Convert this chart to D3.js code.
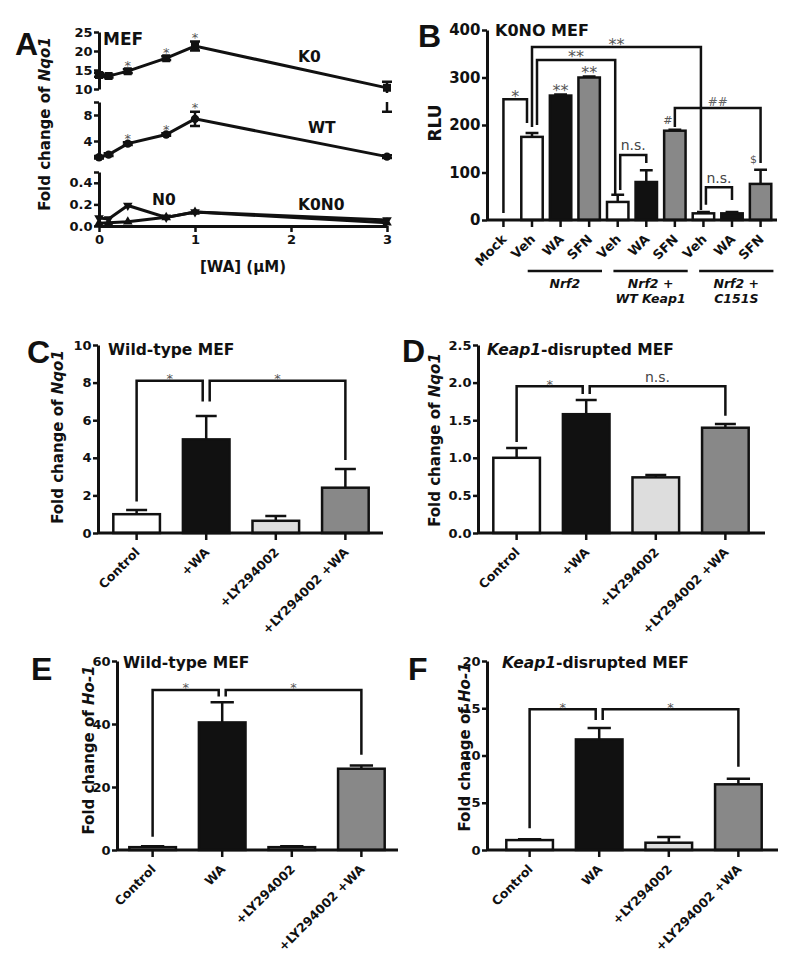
<!DOCTYPE html>
<html><head><meta charset="utf-8">
<script src="https://cdn.jsdelivr.net/npm/d3@7"></script>
<style>body{margin:0;background:#fff}svg{display:block}</style>
</head><body><svg id="c" width="800" height="977"></svg>
<script>
// ---------------- DATA ----------------
// Panel A
const doseA = [0, 0.1, 0.3, 0.7, 1, 3];
const k0A = [13.7, 13.4, 14.7, 18.1, 21.3, 10.3];
const k0LoA = [13.2, 13.0, 14.2, 17.6, 20.1, 4.0];
const k0HiA = [14.2, 13.8, 15.2, 18.6, 22.5, 11.9];
const wtA = [1.5, 1.9, 3.6, 5.0, 7.4, 1.6];
const wtLoA = [1.3, 1.7, 3.4, 4.8, 6.3, 1.4];
const wtHiA = [1.7, 2.1, 3.8, 5.2, 8.5, 1.8];
const n0A = [0.074, 0.065, 0.19, 0.08, 0.13, 0.055];
const k0n0A = [0.026, 0.03, 0.04, 0.08, 0.13, 0.03];
const starDosesK0 = [0.3, 0.7, 1];
const starDosesWT = [0.3, 0.7, 1];
const ticksATop = [10, 15, 20, 25];
const ticksAMid = [4, 8, 10];
const ticksABot = [0, 0.2, 0.4, 0.5];
const ticksAX = [0, 1, 2, 3];

// Panel B
const catsB = ["Mock", "Veh", "WA", "SFN", "Veh", "WA", "SFN", "Veh", "WA", "SFN"];
const rluB = [0, 175, 262, 300, 38, 80, 188, 14, 14, 76];
const rluErrB = [0, 8, 2, 2, 15, 25, 2, 3, 3, 30];
const fillB = ["#fff", "#fff", "#111", "#888", "#fff", "#111", "#888", "#fff", "#111", "#888"];
const groupsB = [[1, 3, ["Nrf2"]], [4, 6, ["Nrf2 +", "WT Keap1"]], [7, 9, ["Nrf2 +", "C151S"]]];
// [leftBar, rightBar, level, leftDrop, rightDrop, label]
const bracketsB = [[0, 1, 254, 15, 204, "*"], [1, 7, 364, 196, 21, "**"], [1, 4, 337, 200, 53, "**"],
                   [6, 9, 236, 196, 120, "##"], [4, 5, 137, 63, 120, "n.s."], [7, 8, 69, 32, 42, "n.s."]];
const marksB = [[2, "**"], [3, "**"], [6, "#"], [9, "$"]];
const ticksB = [0, 100, 200, 300, 400];

// Panels C-F
const catsCD = ["Control", "+WA", "+LY294002", "+LY294002 +WA"];
const catsEF = ["Control", "WA", "+LY294002", "+LY294002 +WA"];
const fillCF = ["#fff", "#111", "#ddd", "#888"];
const valsC = [1.0, 4.98, 0.65, 2.41];
const errC = [0.22, 1.24, 0.25, 1.0];
const valsD = [1.0, 1.58, 0.74, 1.40];
const errD = [0.13, 0.19, 0.03, 0.05];
const valsE = [0.9, 40.5, 0.9, 25.8];
const errE = [0.3, 6.4, 0.3, 1.0];
const valsF = [1.05, 11.7, 0.77, 6.95];
const errF = [0.1, 1.2, 0.6, 0.6];
const bracketsC = [[0, 1, 8.1, 1.67, 7.0, "*"], [1, 3, 8.1, 7.0, 3.88, "*"]];
const bracketsD = [[0, 1, 1.95, 1.21, 1.85, "*"], [1, 3, 1.95, 1.85, 1.56, "n.s."]];
const bracketsE = [[0, 1, 50.8, 4.2, 48.7, "*"], [1, 3, 50.8, 48.7, 30.2, "*"]];
const bracketsF = [[0, 1, 14.9, 2.3, 13.75, "*"], [1, 3, 14.9, 13.75, 8.8, "*"]];
const ticksC = [0, 2, 4, 6, 8, 10];
const ticksD = [0, 0.5, 1, 1.5, 2, 2.5];
const ticksE = [0, 20, 40, 60];
const ticksF = [0, 5, 10, 15, 20];

// ---------------- DRAWING ----------------
const FONT = "'DejaVu Sans', Verdana, sans-serif";
const INK = "#111";
const svg = d3.select("#c");

function txt(g, x, y, parts, o = {}) {
  const t = g.append("text").attr("x", x).attr("y", y)
    .attr("font-family", o.family || FONT).attr("font-size", o.size || 13)
    .attr("font-weight", o.weight || "bold").attr("fill", o.fill || INK)
    .attr("text-anchor", o.anchor || "start");
  if (o.transform) t.attr("transform", o.transform);
  if (o.dy) t.attr("dy", o.dy);
  (typeof parts === "string" ? [[parts, false]] : parts).forEach(p => {
    t.append("tspan").text(p[0]).attr("font-style", p[1] ? "italic" : "normal");
  });
  return t;
}
function yLabel(g, cx, cy, parts, size) {
  txt(g, 0, 0, parts, {size, anchor: "middle", dy: "0.35em", transform: `translate(${cx},${cy}) rotate(-90)`});
}
function panelLetter(x, y, s) {
  txt(svg, x, y, s, {family: "'Liberation Sans', Arial, sans-serif", size: 32});
}
function yAxisAt(g, xPos, scale, ticks, fmt, fs) {
  const ax = d3.axisLeft(scale).tickValues(ticks).tickSize(5).tickPadding(1.5).tickSizeOuter(0);
  if (fmt) ax.tickFormat(fmt);
  const a = g.append("g").attr("transform", `translate(${xPos},0)`).call(ax);
  a.select(".domain").attr("stroke", INK).attr("stroke-width", 3);
  a.selectAll(".tick line").attr("stroke", INK).attr("stroke-width", 2.5);
  a.selectAll(".tick text").attr("font-family", FONT).attr("font-weight", "bold").attr("font-size", fs).attr("fill", INK);
  return a;
}
function annot(g, x, lineY, label, starSize) {
  if (/^\*+$/.test(label)) txt(g, x, lineY + 2.5, label, {size: starSize, weight: "normal", fill: "#555", anchor: "middle"});
  else if (/^#+$/.test(label)) txt(g, x, lineY - 2, label, {size: 12, weight: "normal", fill: "#666", anchor: "middle"});
  else txt(g, x, lineY - 4.5, label, {size: 14, weight: "normal", fill: "#444", anchor: "middle"});
}
function drawBrackets(g, brackets, cx, y, spacing, starSize) {
  const ends = {};
  brackets.forEach((b, k) => {
    (ends[b[0]] = ends[b[0]] || []).push({k, side: "L", level: b[2]});
    (ends[b[1]] = ends[b[1]] || []).push({k, side: "R", level: b[2]});
  });
  const pos = {};
  Object.keys(ends).forEach(i => {
    const list = ends[i].slice().sort((a, b) => a.side !== b.side ? (a.side === "R" ? -1 : 1)
      : (a.side === "R" ? a.level - b.level : b.level - a.level));
    list.forEach((e, idx) => { pos[e.k + e.side] = cx(+i) + (idx - (list.length - 1) / 2) * spacing; });
  });
  brackets.forEach((b, k) => {
    const xl = pos[k + "L"], xr = pos[k + "R"], yl = y(b[2]);
    g.append("path").attr("d", `M${xl},${y(b[3])}V${yl}H${xr}V${y(b[4])}`)
      .attr("fill", "none").attr("stroke", INK).attr("stroke-width", 2.5);
    annot(g, (xl + xr) / 2, yl, b[5], starSize);
  });
}

function barPanel(o) {
  const g = svg.append("g");
  const y = d3.scaleLinear().domain(o.domain).range([o.bottom, o.top]);
  const x = d3.scaleBand().domain(d3.range(o.cats.length))
    .range([o.axisX + o.inset, o.axisX + o.inset + o.width]).paddingInner(o.pi).paddingOuter(o.po);
  const bw = x.bandwidth(), cap = bw * o.capFrac;
  const cx = i => x(i) + bw / 2;
  g.selectAll("path.err").data(o.vals).join("path").attr("class", "err")
    .attr("d", (d, i) => o.errs[i] > 0 ? `M${cx(i)},${y(d)}V${y(d + o.errs[i])}M${cx(i) - cap / 2},${y(d + o.errs[i])}H${cx(i) + cap / 2}` : null)
    .attr("stroke", INK).attr("stroke-width", 2.5).attr("fill", "none");
  g.selectAll("rect.bar").data(o.vals.map((v, i) => ({v, i})).filter(d => d.v > 0)).join("rect").attr("class", "bar")
    .attr("x", d => x(d.i)).attr("y", d => y(d.v)).attr("width", bw).attr("height", d => o.bottom - y(d.v))
    .attr("fill", d => o.fills[d.i]).attr("stroke", INK).attr("stroke-width", 2.5);
  g.append("line").attr("x1", o.axisX).attr("x2", o.xEnd).attr("y1", o.bottom).attr("y2", o.bottom)
    .attr("stroke", INK).attr("stroke-width", 3);
  g.selectAll("line.xt").data(o.cats).join("line").attr("class", "xt")
    .attr("x1", (d, i) => cx(i)).attr("x2", (d, i) => cx(i)).attr("y1", o.bottom).attr("y2", o.bottom + 7)
    .attr("stroke", INK).attr("stroke-width", 2.5);
  o.cats.forEach((c, i) => {
    txt(g, 0, 0, c, {size: o.catSize, anchor: "end", transform: `translate(${cx(i) + 4},${o.bottom + 20}) rotate(-45)`});
  });
  yAxisAt(g, o.axisX, y, o.ticks, o.fmt, o.tickSize);
  if (o.brackets) drawBrackets(g, o.brackets, cx, y, o.spacing, o.starSize);
  txt(g, o.titleX, o.titleY, o.title, {size: o.titleSize || 15.5});
  yLabel(g, o.ylx, o.yly, o.ylabel, o.ylSize || 15);
  return {g, x, y, cx, bw};
}

// ---------- Panel A ----------
(function () {
  const g = svg.append("g");
  const x = d3.scaleLinear().domain([0, 3]).range([99, 387]);
  const yT = d3.scaleLinear().domain([10, 25]).range([89, 32]);
  const yM = d3.scaleLinear().domain([0, 10]).range([167, 102]);
  const yB = d3.scaleLinear().domain([0, 0.5]).range([226, 172]);

  yAxisAt(g, 99, yT, ticksATop, d3.format("d"), 13);
  yAxisAt(g, 99, yM.copy().domain([1, 10]).range([yM(1), yM(10)]), ticksAMid, d => d === 10 ? "" : d, 13);
  yAxisAt(g, 99, yB, ticksABot, d => d === 0.5 ? "" : d3.format(".1f")(d), 13);

  const xa = g.append("g").attr("transform", "translate(0,226)")
    .call(d3.axisBottom(x).tickValues(ticksAX).tickFormat(d3.format("d")).tickSize(6).tickPadding(3).tickSizeOuter(0));
  xa.select(".domain").attr("stroke", INK).attr("stroke-width", 3);
  xa.selectAll(".tick line").attr("stroke", INK).attr("stroke-width", 2.5);
  xa.selectAll(".tick text").attr("font-family", FONT).attr("font-weight", "bold").attr("font-size", 13).attr("fill", INK);

  const cp = svg.append("clipPath").attr("id", "clipTop");
  cp.append("rect").attr("x", 0).attr("y", 0).attr("width", 400).attr("height", 93);
  cp.append("rect").attr("x", 0).attr("y", 102).attr("width", 400).attr("height", 12);

  function series(vals, lo, hi, y, sym, size, rot, clip) {
    const s = g.append("g");
    if (clip) s.attr("clip-path", "url(#clipTop)");
    const pts = doseA.map((d, i) => [x(d), y(vals[i])]);
    s.append("path").attr("d", d3.line()(pts)).attr("fill", "none").attr("stroke", INK).attr("stroke-width", 3);
    if (lo) {
      s.selectAll("path.eb").data(doseA).join("path").attr("class", "eb")
        .attr("d", (d, i) => `M${x(d)},${y(lo[i])}V${y(hi[i])}M${x(d) - 5},${y(lo[i])}H${x(d) + 5}M${x(d) - 5},${y(hi[i])}H${x(d) + 5}`)
        .attr("stroke", INK).attr("stroke-width", 2.5).attr("fill", "none");
    }
    s.selectAll("path.sym").data(pts).join("path").attr("class", "sym")
      .attr("d", d3.symbol().type(sym).size(size))
      .attr("transform", d => `translate(${d[0]},${d[1]}) rotate(${rot})`).attr("fill", INK);
  }
  series(k0A, k0LoA, k0HiA, yT, d3.symbolSquare, 64, 0, true);
  series(wtA, wtLoA, wtHiA, yM, d3.symbolCircle, 55, 0, false);
  series(k0n0A, null, null, yB, d3.symbolTriangle, 40, 0, false);
  series(n0A, null, null, yB, d3.symbolTriangle, 40, 180, false);

  starDosesK0.forEach(d => { const i = doseA.indexOf(d);
    txt(g, x(d), Math.min(yT(k0A[i]), yT(k0HiA[i]) + 0.5), "*", {size: 13, weight: "normal", fill: "#555", anchor: "middle"}); });
  starDosesWT.forEach(d => { const i = doseA.indexOf(d);
    txt(g, x(d), Math.min(yM(wtA[i]), yM(wtHiA[i]) + 0.5), "*", {size: 13, weight: "normal", fill: "#555", anchor: "middle"}); });

  txt(g, 103, 45, "MEF", {size: 17});
  txt(g, 298, 62, "K0", {size: 15.5});
  txt(g, 308, 133, "WT", {size: 15.5});
  txt(g, 152, 205, "N0", {size: 15.5});
  txt(g, 298, 210, "K0N0", {size: 15.5});
  txt(g, 243, 272, "[WA] (\u03bcM)", {size: 15, anchor: "middle"});
  yLabel(g, 45, 124, [["Fold change of ", false], ["Nqo1", true]], 15);
  panelLetter(15, 55, "A");
})();

// ---------- Panel B ----------
(function () {
  const P = barPanel({cats: catsB, vals: rluB, errs: rluErrB, fills: fillB, domain: [0, 400], ticks: ticksB,
    fmt: d3.format("d"), tickSize: 15, top: 30, bottom: 220, axisX: 487, xEnd: 777, inset: 0, width: 290,
    pi: 0.25, po: 0.2, capFrac: 0.6, catSize: 13, brackets: bracketsB, spacing: 5, starSize: 16,
    title: "K0NO MEF", titleX: 495, titleY: 36, titleSize: 16, ylabel: "RLU", ylx: 435, yly: 123, ylSize: 17});
  marksB.forEach(([i, lab]) => {
    const top = P.y(rluB[i] + rluErrB[i]);
    const star = /^\*+$/.test(lab);
    const off = star ? 1.5 : (lab === "#" ? -5.5 : -6.5);
    txt(P.g, P.cx(i) + (star ? 0 : -7), top + off, lab, {size: star ? 16 : 11, weight: "normal", fill: "#555", anchor: "middle"});
  });
  groupsB.forEach(([a, b, lines]) => {
    const x1 = P.x(a) + P.bw * 0.3, x2 = P.x(b) + P.bw * 1.1;
    P.g.append("line").attr("x1", x1).attr("x2", x2).attr("y1", 271).attr("y2", 271).attr("stroke", INK).attr("stroke-width", 2.5);
    lines.forEach((l, k) => {
      const t = txt(P.g, (x1 + x2) / 2, 288 + k * 14.5, "", {size: 12.5, anchor: "middle"});
      t.attr("font-style", "italic");
      t.selectAll("tspan").remove();
      t.text(l);
    });
  });
  panelLetter(418, 47, "B");
})();

// ---------- Panels C-F ----------
barPanel({cats: catsCD, vals: valsC, errs: errC, fills: fillCF, domain: [0, 10], ticks: ticksC, fmt: d3.format("d"),
  tickSize: 13, top: 345, bottom: 533, axisX: 98, xEnd: 383, inset: 0, width: 286, pi: 0.33, po: 0.22, capFrac: 0.45,
  catSize: 12.5, brackets: bracketsC, spacing: 7, starSize: 13, title: "Wild-type MEF", titleX: 108, titleY: 355,
  ylabel: [["Fold change of ", false], ["Nqo1", true]], ylx: 58, yly: 437});
panelLetter(27, 363, "C");

barPanel({cats: catsCD, vals: valsD, errs: errD, fills: fillCF, domain: [0, 2.5], ticks: ticksD, fmt: d3.format(".1f"),
  tickSize: 13, top: 345, bottom: 533, axisX: 478, xEnd: 765, inset: 0, width: 286, pi: 0.33, po: 0.22, capFrac: 0.45,
  catSize: 12.5, brackets: bracketsD, spacing: 7, starSize: 13, title: [["Keap1", true], ["-disrupted MEF", false]],
  titleX: 487, titleY: 355, ylabel: [["Fold change of ", false], ["Nqo1", true]], ylx: 435, yly: 440});
panelLetter(402, 362, "D");

barPanel({cats: catsEF, vals: valsE, errs: errE, fills: fillCF, domain: [0, 60], ticks: ticksE, fmt: d3.format("d"),
  tickSize: 13, top: 661, bottom: 850, axisX: 117, xEnd: 398, inset: -3, width: 286, pi: 0.33, po: 0.22, capFrac: 0.5,
  catSize: 12.5, brackets: bracketsE, spacing: 7, starSize: 13, title: "Wild-type MEF", titleX: 123, titleY: 668,
  ylabel: [["Fold change of ", false], ["Ho-1", true]], ylx: 89, yly: 750});
panelLetter(31, 680, "E");

barPanel({cats: catsEF, vals: valsF, errs: errF, fills: fillCF, domain: [0, 20], ticks: ticksF, fmt: d3.format("d"),
  tickSize: 13, top: 661, bottom: 850, axisX: 487, xEnd: 778, inset: 4, width: 286, pi: 0.33, po: 0.22, capFrac: 0.5,
  catSize: 12.5, brackets: bracketsF, spacing: 7, starSize: 13, title: [["Keap1", true], ["-disrupted MEF", false]],
  titleX: 502, titleY: 668, ylabel: [["Fold change of ", false], ["Ho-1", true]], ylx: 465, yly: 747});
panelLetter(408, 680, "F");
</script></body></html>
